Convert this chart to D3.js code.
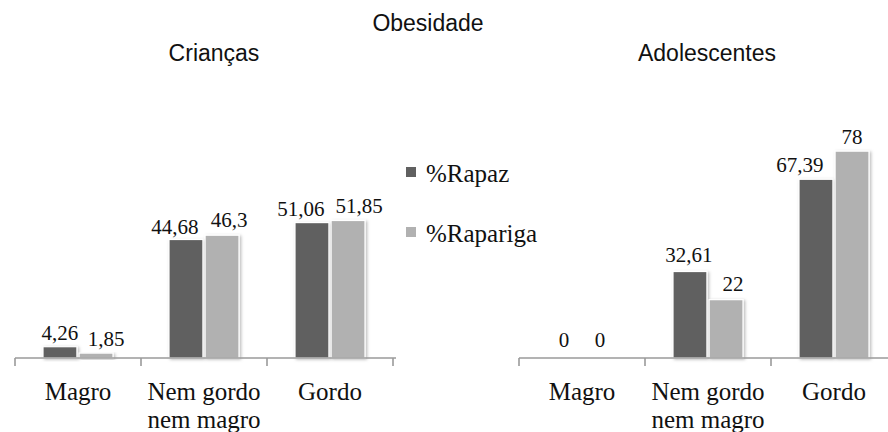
<!DOCTYPE html>
<html>
<head>
<meta charset="utf-8">
<script src="https://cdn.jsdelivr.net/npm/d3@7"></script>
<style>
  html, body { margin: 0; padding: 0; background: #fff; }
  svg { display: block; }
  .serif { font-family: "Liberation Serif", "Times New Roman", serif; }
  .sans { font-family: "Liberation Sans", Arial, sans-serif; }
</style>
</head>
<body>
<svg id="chart" width="888" height="432"></svg>
<script>
// Categories and series
const categories = ["Magro", "Nem gordo\nnem magro", "Gordo"];
const seriesNames = ["%Rapaz", "%Rapariga"];
const seriesColors = ["#606060", "#b1b1b1"];

// Percentages per category
const criancasRapaz = [4.26, 44.68, 51.06];
const criancasRapariga = [1.85, 46.3, 51.85];
const adolescentesRapaz = [0, 32.61, 67.39];
const adolescentesRapariga = [0, 22, 78];

// Value label text (comma decimal separator)
const fmt = v => String(v).replace(".", ",");

// Small hand nudges [dx, dy] applied to the value labels
const criancasNudge = [[[0, 0], [10, 0]], [[-11, 1], [7, -1]], [[-11, 0], [11, 0]]];
const adolescentesNudge = [[[0, -4], [0, -4]], [[-1, -3], [7, -2]], [[-16, 0], [0, 0]]];

const svg = d3.select("#chart");

const defs = svg.append("defs");
const shadow = defs.append("filter").attr("id", "barShadow")
  .attr("x", "-20%").attr("y", "-20%").attr("width", "150%").attr("height", "150%");
shadow.append("feDropShadow")
  .attr("dx", 1.5).attr("dy", 1).attr("stdDeviation", 1.6)
  .attr("flood-color", "#000").attr("flood-opacity", 0.28);

const baseY = 358;
const y = d3.scaleLinear().domain([0, 60]).range([baseY, baseY - 60 * 2.652]);

function drawPanel(x0, title, titleX, rapaz, rapariga, nudge) {
  const g = svg.append("g");
  const x = d3.scaleBand().domain(categories).range([x0, x0 + 378]).padding(0);
  const xs = d3.scaleBand().domain(seriesNames).range([28, 98]).paddingInner(0.06);

  const rows = categories.map((c, i) => ({
    cat: c,
    vals: [rapaz[i], rapariga[i]],
    nudge: nudge[i]
  }));

  const groups = g.selectAll("g.cat").data(rows).join("g")
    .attr("class", "cat")
    .attr("transform", d => `translate(${x(d.cat)},0)`);

  // bars
  groups.selectAll("rect").data(d => d.vals.map((v, j) => ({ v, s: seriesNames[j], j })))
    .join("rect")
    .filter(d => d.v > 0)
    .attr("x", d => xs(d.s))
    .attr("y", d => y(d.v))
    .attr("width", xs.bandwidth())
    .attr("height", d => y(0) - y(d.v))
    .attr("fill", d => seriesColors[d.j])
    .attr("stroke", "#fff")
    .attr("stroke-width", 1.2)
    .attr("filter", "url(#barShadow)");

  // value labels
  groups.selectAll("text.val").data(d => d.vals.map((v, j) => ({ v, s: seriesNames[j], n: d.nudge[j] })))
    .join("text")
    .attr("class", "val serif")
    .attr("x", d => xs(d.s) + xs.bandwidth() / 2 + d.n[0])
    .attr("y", d => y(d.v) - 7 + d.n[1])
    .attr("text-anchor", "middle")
    .style("font-size", "21px")
    .attr("fill", "#111")
    .text(d => fmt(d.v));

  // axis line and ticks between categories
  g.append("line")
    .attr("x1", x0).attr("x2", x0 + 378 + 3)
    .attr("y1", baseY).attr("y2", baseY)
    .attr("stroke", "#9a9a9a").attr("stroke-width", 1.6);
  const tickPos = categories.map(c => x(c)).concat([x.range()[1]]);
  g.selectAll("line.tick").data(tickPos).join("line")
    .attr("class", "tick")
    .attr("x1", d => d).attr("x2", d => d)
    .attr("y1", baseY).attr("y2", baseY + 8)
    .attr("stroke", "#9a9a9a").attr("stroke-width", 1.6);

  // category labels
  const lbl = g.selectAll("text.catlbl").data(categories).join("text")
    .attr("class", "catlbl serif")
    .attr("x", d => x(d) + x.bandwidth() / 2)
    .attr("y", 400)
    .attr("text-anchor", "middle")
    .style("font-size", "25px")
    .attr("fill", "#111");
  lbl.selectAll("tspan").data(d => d.split("\n").map(t => ({ t, x: x(d) + x.bandwidth() / 2 })))
    .join("tspan")
    .attr("x", d => d.x)
    .attr("dy", (d, i) => i === 0 ? 0 : 28)
    .text(d => d.t);

  // panel title
  svg.append("text")
    .attr("class", "sans")
    .attr("x", titleX).attr("y", 61)
    .attr("text-anchor", "middle")
    .style("font-size", "23px")
    .attr("fill", "#111")
    .text(title);
}

drawPanel(15, "Crianças", 214, criancasRapaz, criancasRapariga, criancasNudge);
drawPanel(519, "Adolescentes", 707, adolescentesRapaz, adolescentesRapariga, adolescentesNudge);

// main title
svg.append("text")
  .attr("class", "sans")
  .attr("x", 428).attr("y", 31)
  .attr("text-anchor", "middle")
  .style("font-size", "23px")
  .attr("fill", "#111")
  .text("Obesidade");

// legend
const legend = svg.append("g").selectAll("g").data(seriesNames).join("g")
  .attr("transform", (d, i) => `translate(406,${167 + i * 60})`);
legend.append("rect")
  .attr("width", 10).attr("height", 10)
  .attr("fill", (d, i) => seriesColors[i]);
legend.append("text")
  .attr("class", "serif")
  .attr("x", 20).attr("y", 15)
  .style("font-size", "25px")
  .attr("fill", "#111")
  .text(d => d);
</script>
</body>
</html>
